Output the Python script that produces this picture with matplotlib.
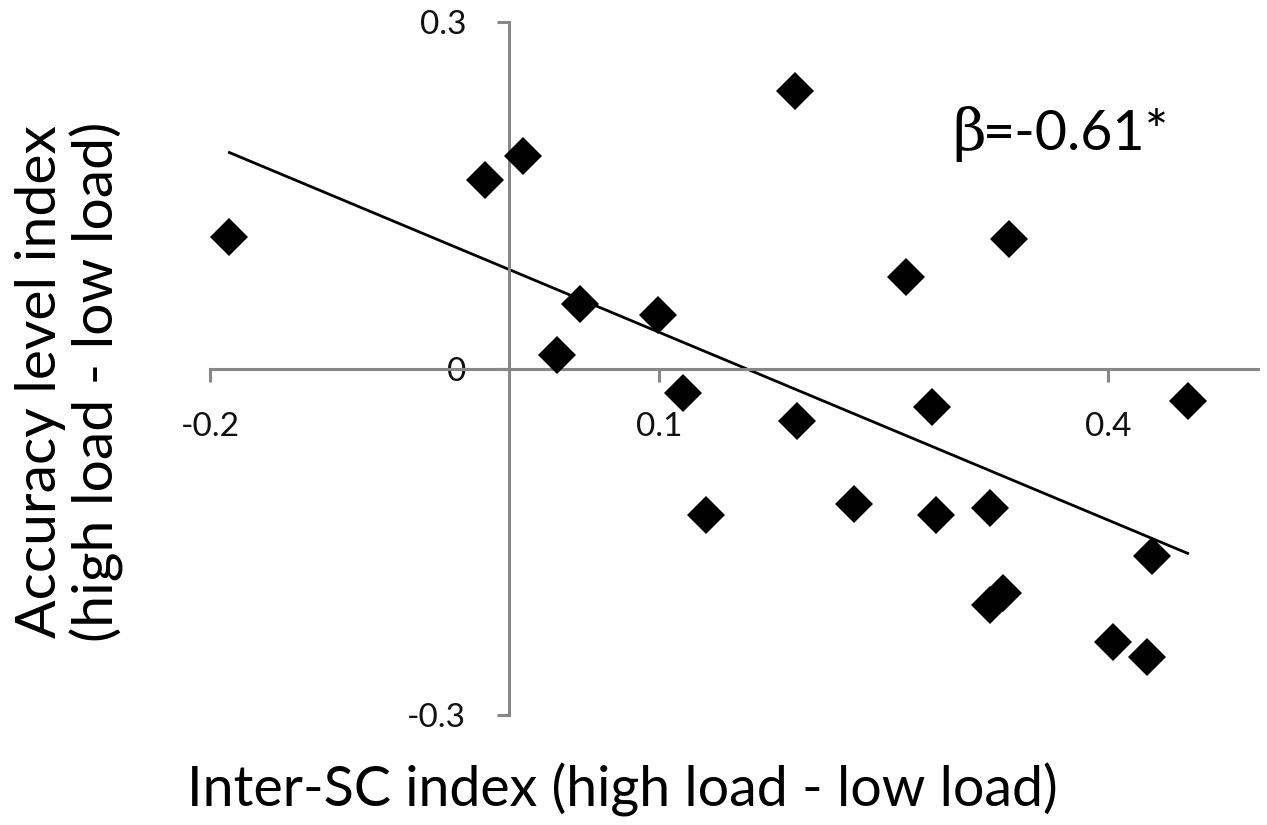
import numpy as np
import matplotlib
matplotlib.use("Agg")
from matplotlib import pyplot as plt

# values
inter_sc = [-0.187, -0.016, 0.009, 0.032, 0.047, 0.099, 0.116, 0.131, 0.191, 0.192,
            0.230, 0.265, 0.282, 0.285, 0.321, 0.334, 0.321, 0.330, 0.403, 0.426,
            0.429, 0.453]
accuracy = [0.114, 0.163, 0.184, 0.012, 0.056, 0.046, -0.021, -0.127, 0.240, -0.045,
            -0.117, 0.079, -0.033, -0.127, -0.121, 0.112, -0.205, -0.194, -0.237, -0.250,
            -0.162, -0.028]
x_ticks = [-0.2, 0.1, 0.4]
y_ticks = [-0.3, 0, 0.3]
x_title = "Inter-SC index (high load - low load)"
y_title = "Accuracy level index\n(high load - low load)"
beta_text = "=-0.61*"

plt.rcParams['font.family'] = ['Lato', 'DejaVu Sans']
gray = '#878787'

fig = plt.figure(figsize=(12.67, 8.25), dpi=100)
ax = fig.add_axes([0.1657, 0.1333, 0.8272, 0.840])

ax.plot(inter_sc, accuracy, 'D', color='black', markersize=19, markeredgewidth=0, zorder=3)

# linear trend line over the data range
slope, icpt = np.polyfit(inter_sc, accuracy, 1)
xs = np.array([min(inter_sc), max(inter_sc)])
ax.plot(xs, slope * xs + icpt, color='black', linewidth=2, zorder=2)

ax.set_xlim(-0.2, 0.5)
ax.set_ylim(-0.3, 0.3)
for s in ['top', 'right']:
    ax.spines[s].set_visible(False)
ax.spines['left'].set_position(('data', 0))
ax.spines['bottom'].set_position(('data', 0))
for s in ['left', 'bottom']:
    ax.spines[s].set_color(gray)
    ax.spines[s].set_linewidth(2.2)

ax.set_xticks(x_ticks)
ax.set_xticklabels(['-0.2', '0.1', '0.4'])
ax.set_yticks(y_ticks)
ax.set_yticklabels(['-0.3', '0', '0.3'])
ax.tick_params(axis='both', direction='out', length=9, width=2.2, color=gray,
               labelsize=24, labelcolor='#111111', pad=22)

fig.text(0.491, 0.042, x_title, fontsize=40, ha='center', va='center')
fig.text(0.055, 0.537, y_title, fontsize=41, ha='center', va='center',
         rotation=90, linespacing=1.1)

fig.text(0.752, 0.818, "\u03b2", fontsize=42, family='DejaVu Serif',
         ha='left', va='baseline')
fig.text(0.752 + 30 / 1267, 0.818, beta_text, fontsize=40, ha='left', va='baseline')

fig.savefig("out.png", dpi=100)
